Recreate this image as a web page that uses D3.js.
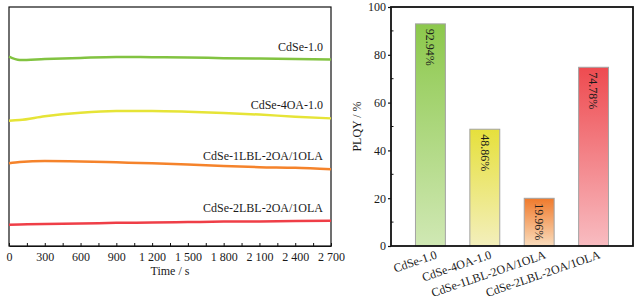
<!DOCTYPE html>
<html>
<head>
<meta charset="utf-8">
<script src="https://cdn.jsdelivr.net/npm/d3@7"></script>
<style>
  body { margin: 0; background: #fff; }
  text { font-family: "Liberation Serif", "DejaVu Serif", serif; fill: #1a1a1a; }
</style>
</head>
<body>
<div id="chart"></div>
<script>
// time axis (s) shared by the four stability curves
const times = [0, 90, 300, 600, 900, 1200, 1500, 1800, 2100, 2400, 2700];
const timeTicks = [0, 300, 600, 900, 1200, 1500, 1800, 2100, 2400, 2700];

// relative PL intensity (a.u.)
const greenVals  = [79.2, 77.8, 78.2, 78.7, 79.1, 79.0, 78.9, 78.6, 78.4, 78.2, 78.0];
const yellowVals = [52.4, 52.7, 54.3, 55.8, 56.5, 56.5, 56.2, 55.7, 55.0, 54.1, 53.4];
const orangeVals = [34.6, 35.1, 35.6, 35.4, 35.0, 34.6, 34.1, 33.5, 33.0, 32.7, 32.1];
const redVals    = [8.9, 9.0, 9.2, 9.4, 9.7, 9.8, 10.0, 10.2, 10.3, 10.5, 10.6];

const samples = ['CdSe-1.0', 'CdSe-4OA-1.0', 'CdSe-1LBL-2OA/1OLA', 'CdSe-2LBL-2OA/1OLA'];
const plqy = [92.94, 48.86, 19.96, 74.78];
const plqyTicks = [0, 20, 40, 60, 80, 100];

const lineColors = ['#82c341', '#e6e437', '#f5832b', '#ef3e47'];
const barTop = ['#8cc84c', '#e6e03c', '#f07a2c', '#ee4b50'];
const barBottom = ['#d0e8b4', '#f3efbc', '#f9dcbc', '#f8bcc1'];

const W = 639, H = 302;
const FS = '12px';
const svg = d3.select('#chart').append('svg')
    .attr('width', W)
    .attr('height', H);

const fmt = d3.formatLocale({ decimal: '.', thousands: ' ', grouping: [3], currency: ['', ''] }).format(',');

// ---------- left panel: stability curves ----------
const L = { left: 9, right: 331, top: 7, bottom: 246 };
const x = d3.scaleLinear().domain([0, 2700]).range([L.left, L.right]);
const y = d3.scaleLinear().domain([0, 100]).range([L.bottom, L.top]);

const leftG = svg.append('g');

// frame
leftG.append('rect')
    .attr('x', L.left).attr('y', L.top)
    .attr('width', L.right - L.left).attr('height', L.bottom - L.top)
    .attr('fill', 'none').attr('stroke', '#111').attr('stroke-width', 1.2);

// inward ticks every 150 s
const xAxis = d3.axisBottom(x)
    .tickValues(d3.range(0, 2701, 150))
    .tickSizeInner(-3).tickSizeOuter(0)
    .tickFormat(d => timeTicks.includes(d) ? fmt(d) : '');
const gx = leftG.append('g')
    .attr('transform', `translate(0,${L.bottom})`)
    .call(xAxis);
gx.select('.domain').attr('stroke', '#111').attr('stroke-width', 1.2);
gx.selectAll('.tick line').attr('stroke', '#111');
gx.selectAll('.tick text')
    .attr('y', 6).attr('dy', '0.71em')
    .style('font-size', FS)
    .style('font-family', '"Liberation Serif", serif');

leftG.append('text')
    .attr('x', (L.left + L.right) / 2).attr('y', 275)
    .attr('text-anchor', 'middle')
    .style('font-size', FS)
    .text('Time / s');

const series = [greenVals, yellowVals, orangeVals, redVals];
const line = d3.line()
    .x((d, i) => x(times[i]))
    .y(d => y(d))
    .curve(d3.curveMonotoneX);

series.forEach((vals, i) => {
    leftG.append('path')
        .datum(vals)
        .attr('d', line)
        .attr('fill', 'none')
        .attr('stroke', lineColors[i])
        .attr('stroke-width', 2.5);
    leftG.append('text')
        .attr('x', 323)
        .attr('y', y(vals[vals.length - 1]) - 9)
        .attr('text-anchor', 'end')
        .style('font-size', FS)
        .text(samples[i]);
});

// ---------- right panel: PLQY bars ----------
const R = { left: 391, right: 633, top: 7, bottom: 246 };
const xb = d3.scaleBand().domain(samples)
    .range([R.left, R.right])
    .paddingInner(0.45).paddingOuter(0.45);
const yb = d3.scaleLinear().domain([0, 100]).range([R.bottom, R.top]);

const rightG = svg.append('g');

const defs = svg.append('defs');
samples.forEach((s, i) => {
    const g = defs.append('linearGradient')
        .attr('id', 'grad' + i)
        .attr('x1', 0).attr('y1', 0).attr('x2', 0).attr('y2', 1);
    g.append('stop').attr('offset', '0%').attr('stop-color', barTop[i]);
    g.append('stop').attr('offset', '100%').attr('stop-color', barBottom[i]);
});

rightG.selectAll('rect.bar')
    .data(plqy)
    .enter()
    .append('rect')
    .attr('class', 'bar')
    .attr('x', (d, i) => xb(samples[i]))
    .attr('y', d => yb(d))
    .attr('width', xb.bandwidth())
    .attr('height', d => yb(0) - yb(d))
    .attr('fill', (d, i) => `url(#grad${i})`)
    .attr('stroke', '#a3a3a3')
    .attr('stroke-width', 1);

rightG.selectAll('text.val')
    .data(plqy)
    .enter()
    .append('text')
    .attr('class', 'val')
    .attr('transform', (d, i) => `translate(${xb(samples[i]) + xb.bandwidth() / 2},${yb(d) + 5}) rotate(90)`)
    .attr('dy', '0.35em')
    .style('font-size', FS)
    .text(d => d.toFixed(2) + '%');

// frame
rightG.append('rect')
    .attr('x', R.left).attr('y', R.top)
    .attr('width', R.right - R.left).attr('height', R.bottom - R.top)
    .attr('fill', 'none').attr('stroke', '#111').attr('stroke-width', 1.8);

// y axis: major ticks outward, minor ticks inward
const yAxis = d3.axisLeft(yb).tickValues(plqyTicks).tickSize(3).tickSizeOuter(0);
const gy = rightG.append('g')
    .attr('transform', `translate(${R.left},0)`)
    .call(yAxis);
gy.select('.domain').remove();
gy.selectAll('.tick line').attr('stroke', '#111').attr('stroke-width', 1.2);
gy.selectAll('.tick text')
    .attr('x', -5)
    .style('font-size', FS)
    .style('font-family', '"Liberation Serif", serif');
rightG.selectAll('line.minor')
    .data([10, 30, 50, 70, 90])
    .enter()
    .append('line')
    .attr('class', 'minor')
    .attr('x1', R.left).attr('x2', R.left + 2.5)
    .attr('y1', d => yb(d)).attr('y2', d => yb(d))
    .attr('stroke', '#111');

rightG.append('text')
    .attr('transform', `translate(361,${(R.top + R.bottom) / 2}) rotate(-90)`)
    .attr('text-anchor', 'middle')
    .style('font-size', FS)
    .text('PLQY / %');

rightG.selectAll('text.cat')
    .data(samples)
    .enter()
    .append('text')
    .attr('class', 'cat')
    .attr('transform', d => `translate(${xb(d) + xb.bandwidth() / 2 + 6},${R.bottom + 8}) rotate(-19)`)
    .attr('text-anchor', 'end')
    .attr('dy', '0.35em')
    .style('font-size', FS)
    .text(d => d);
</script>
</body>
</html>
